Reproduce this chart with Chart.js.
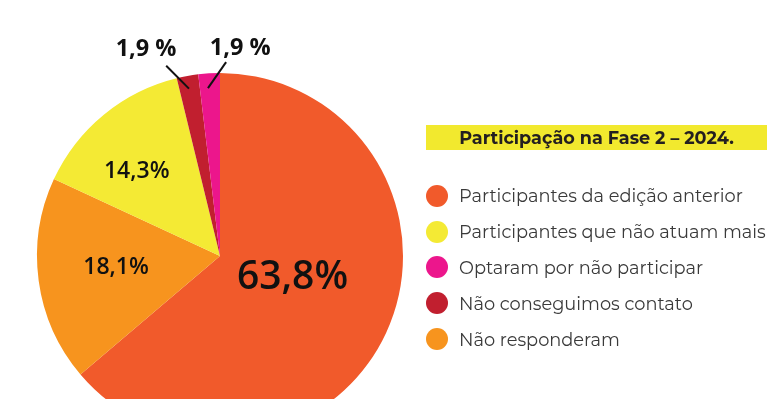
<!DOCTYPE html>
<html>
<head>
<meta charset="utf-8">
<script src="https://cdn.jsdelivr.net/npm/chart.js@4"></script>
<style>
  html, body { margin: 0; padding: 0; background: #fff; }
  #wrap { position: relative; width: 768px; height: 399px; overflow: hidden; }
  #pie { position: absolute; left: 0; top: 0; }
  #legend { position: absolute; left: 426px; top: 125px; width: 342px; font-family: "Montserrat", "Noto Sans", sans-serif; }
  #legend .title { background: #F2E92E; height: 25px; line-height: 25px; text-align: center; font-weight: bold; font-size: 17.6px; color: #231f20; width: 341px; }
  #legend ul { list-style: none; margin: 28px 0 0 0; padding: 0; }
  #legend li { height: 35.8px; display: flex; align-items: center; font-size: 17.8px; color: #3a3a3a; white-space: nowrap; }
  #legend .dot { width: 22px; height: 22px; border-radius: 50%; margin-right: 11px; flex: none; }
</style>
</head>
<body>
<div id="wrap">
  <canvas id="pie"></canvas>
  <div id="legend"><div class="title"></div><ul></ul></div>
</div>
<script>
// categories in legend order
const categories = [
    "Participantes da edição anterior",
    "Participantes que não atuam mais",
    "Optaram por não participar",
    "Não conseguimos contato",
    "Não responderam"
];
const shares = [63.8, 14.3, 1.9, 1.9, 18.1];
const valueLabels = ["63,8%", "14,3%", "1,9 %", "1,9 %", "18,1%"];
const colors = ["#F15A2B", "#F4EA34", "#EC168C", "#C11F2F", "#F7941E"];
const legendTitle = "Participação na Fase 2 – 2024.";
// order slices are drawn clockwise from 12 o'clock
const sliceOrder = [0, 4, 1, 3, 2];

// label placement per category: angle (deg, from 3 o'clock), radius fraction, font size, outside w/ leader line
const labelStyle = [
    { ang: 15, rf: 0.41, size: 39, weight: "600" },
    { ang: 226, rf: 0.655, size: 23, weight: "600" },
    { ang: 275.5, rf: 1.15, size: 23.5, weight: "700", line: { a1: 265.9, r1: 0.92, a2: 271.8, r2: 1.06 } },
    { ang: 250.5, rf: 1.21, size: 23.5, weight: "700", line: { a1: 259.5, r1: 0.93, a2: 254.2, r2: 1.08 } },
    { ang: 175, rf: 0.57, size: 23, weight: "600" }
];

const labelsPlugin = {
    id: "sliceLabels",
    afterDatasetsDraw(chart) {
        const ctx = chart.ctx;
        const meta = chart.getDatasetMeta(0);
        meta.data.forEach((arc, i) => {
            const cat = sliceOrder[i];
            const st = labelStyle[cat];
            const r = arc.outerRadius;
            const pt = (a, f) => [arc.x + Math.cos(a * Math.PI / 180) * r * f, arc.y + Math.sin(a * Math.PI / 180) * r * f];
            ctx.save();
            if (st.line) {
                const p1 = pt(st.line.a1, st.line.r1), p2 = pt(st.line.a2, st.line.r2);
                ctx.strokeStyle = "#111";
                ctx.lineWidth = 2;
                ctx.beginPath();
                ctx.moveTo(p1[0], p1[1]);
                ctx.lineTo(p2[0], p2[1]);
                ctx.stroke();
            }
            const p = pt(st.ang, st.rf);
            ctx.fillStyle = "#111";
            ctx.font = st.weight + " " + st.size + "px 'Open Sans', sans-serif";
            ctx.textAlign = "center";
            ctx.textBaseline = "middle";
            ctx.fillText(valueLabels[cat], p[0], p[1] + 2);
            ctx.restore();
        });
    }
};

const canvas = document.getElementById("pie");
canvas.width = 768;
canvas.height = 460;
const pieChart = new Chart(canvas.getContext("2d"), {
    type: "pie",
    data: {
        labels: sliceOrder.map(i => categories[i]),
        datasets: [{
            data: sliceOrder.map(i => shares[i]),
            backgroundColor: sliceOrder.map(i => colors[i]),
            borderWidth: 0
        }]
    },
    options: {
        responsive: false,
        animation: false,
        layout: { padding: { left: 37, top: 73, right: 365, bottom: 21 } },
        plugins: {
            legend: { display: false },
            tooltip: { enabled: false }
        }
    },
    plugins: [labelsPlugin]
});

// legend, in category order
document.querySelector("#legend .title").textContent = legendTitle;
const ul = document.querySelector("#legend ul");
categories.forEach((c, i) => {
    const li = document.createElement("li");
    const dot = document.createElement("span");
    dot.className = "dot";
    dot.style.background = colors[i];
    li.appendChild(dot);
    li.appendChild(document.createTextNode(c));
    ul.appendChild(li);
});
</script>
</body>
</html>
